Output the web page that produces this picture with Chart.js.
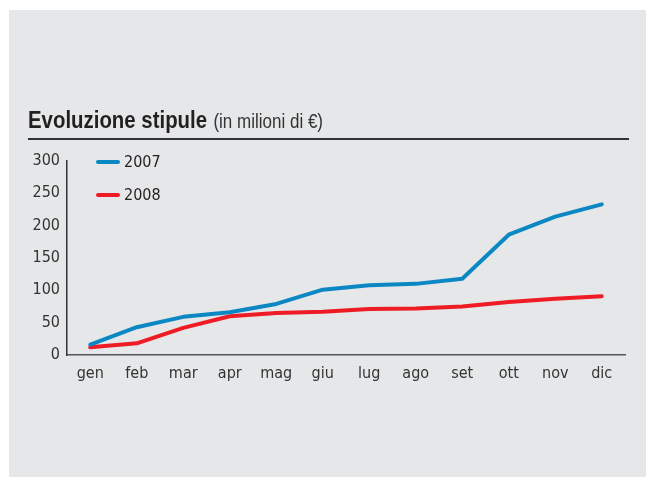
<!DOCTYPE html>
<html>
<head>
<meta charset="utf-8">
<script src="https://cdn.jsdelivr.net/npm/chart.js@4"></script>
<style>
  html, body { margin: 0; padding: 0; background: #fff; }
  #box { position: absolute; left: 9px; top: 10px; width: 637px; height: 467px; background: #e6e7e8; }
  #wrap { position: absolute; left: 0; top: 0; width: 646px; height: 477px; }
  #title { position: absolute; left: 28px; top: 106px; font-family: "Liberation Sans", sans-serif; color: #231f20; white-space: nowrap; transform: scaleX(0.85); transform-origin: left top; }
  #title b { font-size: 24px; font-weight: bold; }
  #title span { font-size: 20px; color: #333; margin-left: 3px; }
  #rule { position: absolute; left: 28px; top: 138px; width: 601px; height: 2px; background: #333; }
  .leg { position: absolute; left: 96px; font-family: "DejaVu Sans Condensed", "Liberation Sans", sans-serif; font-size: 16px; color: #231f20; }
  .leg i { display: inline-block; width: 24px; height: 4px; border-radius: 2px; vertical-align: middle; margin-right: 4px; position: relative; top: -1px; }
</style>
</head>
<body>
<div id="box"></div>
<div id="wrap"><canvas id="chart" width="646" height="477"></canvas></div>
<div id="title"><b>Evoluzione stipule</b> <span>(in milioni di €)</span></div>
<div id="rule"></div>
<div class="leg" style="top:152px"><i style="background:#0b88c4"></i>2007</div>
<div class="leg" style="top:185px"><i style="background:#ee1c25"></i>2008</div>
<script>
const months = ["gen", "feb", "mar", "apr", "mag", "giu", "lug", "ago", "set", "ott", "nov", "dic"];
const values2007 = [16, 43, 59, 66, 79, 101, 108, 110, 118, 186, 214, 233];
const values2008 = [12, 18, 42, 60, 65, 67, 71, 72, 75, 82, 87, 91];
const yTicks = [0, 50, 100, 150, 200, 250, 300];

const font = { family: "'DejaVu Sans Condensed', 'Liberation Sans', sans-serif", size: 16 };

const ctx = document.getElementById("chart").getContext("2d");
new Chart(ctx, {
  type: "line",
  data: {
    labels: months,
    datasets: [
      { label: "2007", data: values2007, borderColor: "#0b88c4", borderWidth: 4, pointRadius: 0, tension: 0, borderCapStyle: "round", borderJoinStyle: "round" },
      { label: "2008", data: values2008, borderColor: "#ee1c25", borderWidth: 4, pointRadius: 0, tension: 0, borderCapStyle: "round", borderJoinStyle: "round" }
    ]
  },
  options: {
    responsive: false,
    animation: false,
    layout: { padding: { left: 0, right: 21, top: 161, bottom: 0 } },
    plugins: { legend: { display: false }, tooltip: { enabled: false } },
    scales: {
      x: {
        offset: true,
        grid: { display: false, drawTicks: false },
        border: { color: "#555", width: 1.5 },
        ticks: { color: "#333", font: font, padding: 9, maxRotation: 0 },
        afterFit: s => { s.height = 122; }
      },
      y: {
        min: 0, max: 300,
        afterBuildTicks: s => { s.ticks = yTicks.map(v => ({ value: v })); },
        grid: { display: false, drawTicks: false },
        border: { color: "#333", width: 1.5 },
        ticks: { color: "#333", font: font, padding: 7 },
        afterFit: s => { s.width = 67; }
      }
    }
  }
});
</script>
</body>
</html>
